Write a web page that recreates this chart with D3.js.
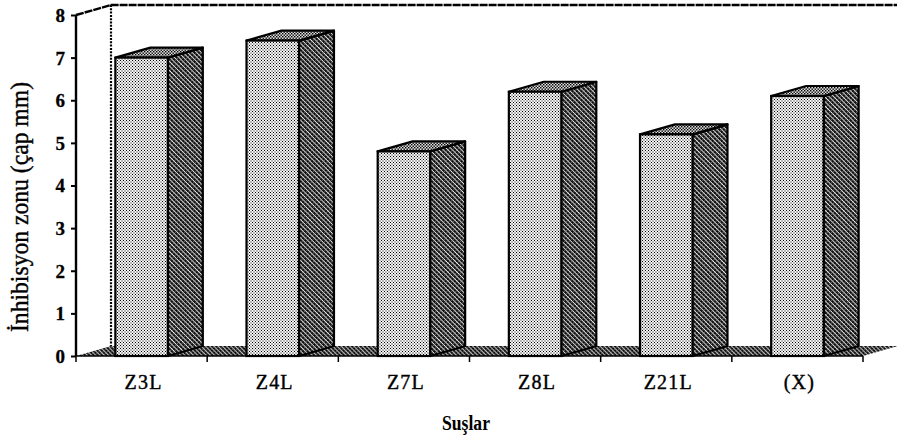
<!DOCTYPE html>
<html>
<head>
<meta charset="utf-8">
<script src="https://cdn.jsdelivr.net/npm/d3@7/dist/d3.min.js"></script>
<style>
  html, body { margin: 0; padding: 0; background: #fff; }
  svg { display: block; }
  text { font-family: "Liberation Serif", "Times New Roman", serif; fill: #000; }
</style>
</head>
<body>
<svg id="chart" width="897" height="442"></svg>
<script>
// Strains and their inhibition zone diameters (mm)
const categories = ["Z3L", "Z4L", "Z7L", "Z8L", "Z21L", "(X)"];
const values = [7.0, 7.4, 4.8, 6.2, 5.2, 6.1];
const yTicks = [0, 1, 2, 3, 4, 5, 6, 7, 8];
const yTitle = "İnhibisyon zonu (çap mm)";
const xTitle = "Suşlar";

(function () {
const svg = d3.select("#chart");
const W = 897;

// plot frame and 3D depth offset
const plotL = 76, plotR = 863, plotT = 15, plotB = 356;
const depth = { dx: 35, dy: -10 };

const x = d3.scaleBand().domain(categories).range([plotL, plotR]).paddingInner(0).paddingOuter(0);
const y = d3.scaleLinear().domain([0, 8]).range([plotB, plotT]);

// fill textures
const defs = svg.append("defs");
function dotPattern(id, size, dots, r, bg) {
  const p = defs.append("pattern").attr("id", id).attr("patternUnits", "userSpaceOnUse")
    .attr("width", size).attr("height", size);
  p.append("rect").attr("width", size).attr("height", size).attr("fill", bg);
  dots.forEach(([cx, cy]) => p.append("rect").attr("x", cx).attr("y", cy)
    .attr("width", r).attr("height", r).attr("fill", "#000"));
}
// front faces: light stipple
dotPattern("front", 3, [[0, 0], [1.5, 1.5]], 1, "#f4f4f4");
// top faces: medium stipple
dotPattern("topface", 3, [[0, 0], [1.5, 1.5]], 1.4, "#ddd");
// side faces and floor: dark cross hatch
function hatch(id, size, lw) {
  const p = defs.append("pattern").attr("id", id).attr("patternUnits", "userSpaceOnUse")
    .attr("width", size).attr("height", size).attr("patternTransform", "rotate(45)");
  p.append("rect").attr("width", size).attr("height", size).attr("fill", "#111");
  p.append("rect").attr("x", 0).attr("y", 0).attr("width", size).attr("height", lw).attr("fill", "#eee");
  p.append("rect").attr("x", 0).attr("y", 0).attr("width", lw * 0.5).attr("height", size).attr("fill", "#999");
}
hatch("side", 3.2, 0.9);
hatch("floor", 3.0, 0.8);

// back wall edges
svg.append("path")
  .attr("d", `M${plotL},${plotT} L${plotL + depth.dx},${plotT + depth.dy} L${W},${plotT + depth.dy}`)
  .attr("fill", "none").attr("stroke", "#000").attr("stroke-width", 2.4)
  .attr("stroke-dasharray", "8,1");
svg.append("line")
  .attr("x1", plotL + depth.dx).attr("x2", plotL + depth.dx)
  .attr("y1", plotT + depth.dy).attr("y2", plotB + depth.dy)
  .attr("stroke", "#000").attr("stroke-width", 2.2).attr("stroke-dasharray", "2,1.3");

// floor
svg.append("path")
  .attr("d", `M${plotL},${plotB} L${plotR},${plotB} L${plotR + depth.dx},${plotB + depth.dy} L${plotL + depth.dx},${plotB + depth.dy} Z`)
  .attr("fill", "url(#floor)").attr("stroke", "none");

// bars
const barW = x.bandwidth() * 0.4;
const bars = svg.append("g").selectAll("g").data(categories.map((c, i) => ({ c, v: values[i] })))
  .join("g");

bars.each(function (d) {
  const g = d3.select(this);
  const x0 = x(d.c) + (x.bandwidth() - barW) / 2, x1 = x0 + barW;
  const yt = y(d.v), yb = y(0);
  const dx = depth.dx, dy = depth.dy;
  // side face
  g.append("path")
    .attr("d", `M${x1},${yb} L${x1 + dx},${yb + dy} L${x1 + dx},${yt + dy} L${x1},${yt} Z`)
    .attr("fill", "url(#side)").attr("stroke", "#000").attr("stroke-width", 2.2).attr("stroke-linejoin", "round");
  // top face
  g.append("path")
    .attr("d", `M${x0},${yt} L${x0 + dx},${yt + dy} L${x1 + dx},${yt + dy} L${x1},${yt} Z`)
    .attr("fill", "url(#topface)").attr("stroke", "#000").attr("stroke-width", 2.2).attr("stroke-linejoin", "round");
  // front face
  g.append("rect")
    .attr("x", x0).attr("y", yt).attr("width", barW).attr("height", yb - yt)
    .attr("fill", "url(#front)").attr("stroke", "#000").attr("stroke-width", 2.2);
});

// front floor edge
svg.append("line").attr("x1", plotL).attr("x2", plotR).attr("y1", plotB).attr("y2", plotB)
  .attr("stroke", "#000").attr("stroke-width", 1.6);

// category axis with ticks at band boundaries
const xBounds = categories.map(c => x(c)).concat([plotR]);
svg.append("g").selectAll("line").data(xBounds).join("line")
  .attr("x1", d => d).attr("x2", d => d).attr("y1", plotB).attr("y2", plotB + 6)
  .attr("stroke", "#000").attr("stroke-width", 1.5);

svg.append("g").selectAll("text").data(categories).join("text")
  .attr("x", d => x(d) + x.bandwidth() / 2 + 2)
  .attr("y", 389)
  .attr("text-anchor", "middle")
  .attr("font-size", 20)
  .attr("letter-spacing", 1.2)
  .attr("stroke", "#000").attr("stroke-width", 0.4)
  .text(d => d);

// value axis
const yAxis = svg.append("g").attr("transform", `translate(${plotL},0)`)
  .call(d3.axisLeft(y).tickValues(yTicks).tickSize(5).tickPadding(6).tickFormat(d3.format("d")));
yAxis.select(".domain").attr("stroke", "#000").attr("stroke-width", 2.4)
  .attr("d", `M0,${plotB}V${plotT}`);
yAxis.selectAll(".tick line").attr("stroke", "#000").attr("stroke-width", 2);
yAxis.selectAll(".tick text")
  .attr("font-family", "Liberation Serif, serif")
  .attr("font-size", 19).attr("font-weight", "bold").attr("fill", "#000")
  .attr("stroke", "#000").attr("stroke-width", 0.3)
  .attr("dy", "0.34em");

// axis titles
svg.append("text")
  .attr("transform", "translate(28,207) rotate(-90)")
  .attr("text-anchor", "middle")
  .attr("font-size", 25)
  .attr("stroke", "#000").attr("stroke-width", 0.4)
  .attr("textLength", 250).attr("lengthAdjust", "spacingAndGlyphs")
  .text(yTitle);

svg.append("text")
  .attr("x", 466).attr("y", 430)
  .attr("text-anchor", "middle")
  .attr("font-size", 20).attr("font-weight", "bold")
  .attr("textLength", 48).attr("lengthAdjust", "spacingAndGlyphs")
  .text(xTitle);
})();
</script>
</body>
</html>
